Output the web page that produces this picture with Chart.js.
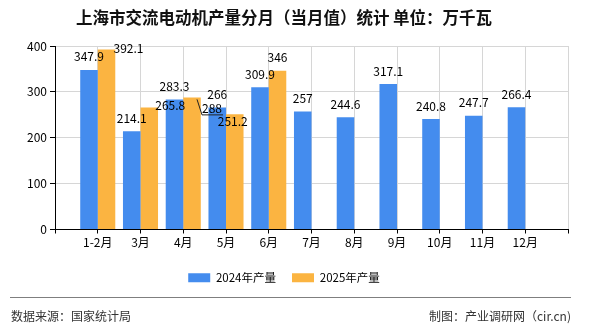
<!DOCTYPE html>
<html>
<head>
<meta charset="utf-8">
<script src="https://cdn.jsdelivr.net/npm/chart.js@4/dist/chart.umd.min.js"></script>
<style>
  html, body { margin: 0; padding: 0; background: #fff; }
  #wrap { position: relative; width: 590px; height: 330px; }
  #rule { position: absolute; left: 10px; top: 297px; width: 561px; height: 1px; background: #7f7f7f; }
  .foot { position: absolute; top: 307px; font: 12px "Noto Sans CJK SC", sans-serif; color: #333; line-height: 18px; }
</style>
</head>
<body>
<div id="wrap">
  <canvas id="myChart" width="590" height="330"></canvas>
  <div id="rule"></div>
  <div class="foot" style="left:11px">数据来源：国家统计局</div>
  <div class="foot" style="right:19px">制图：产业调研网（cir.cn)</div>
</div>
<script>
const ctx = document.getElementById('myChart');

// data
var months = ['1-2月', '3月', '4月', '5月', '6月', '7月', '8月', '9月', '10月', '11月', '12月'];
var output2024 = [347.9, 214.1, 283.3, 266, 309.9, 257, 244.6, 317.1, 240.8, 247.7, 266.4];
var output2025 = [392.1, 265.8, 288, 251.2, 346];
var yTicks = [0, 100, 200, 300, 400];

// one empty slot each side so the grid starts/ends half a step out
function pad(arr) {
    var out = [null];
    for (var i = 0; i < months.length; i++) {
        out.push(i < arr.length ? arr[i] : null);
    }
    out.push(null);
    return out;
}

const font = '"Noto Sans CJK SC", sans-serif';

// the source moved a few crowded 2025 labels aside: [dx, dy, leader line]
var shifts2025 = [[22, 11.5], [21, 11], [20, 24, true], [-2, 20]];

const valueLabels = {
    id: 'valueLabels',
    afterDatasetsDraw(chart) {
        const c = chart.ctx;
        c.save();
        c.font = '12px ' + font;
        c.fillStyle = '#000';
        c.strokeStyle = '#222';
        c.lineWidth = 1;
        c.textAlign = 'center';
        c.textBaseline = 'middle';
        chart.data.datasets.forEach(function (ds, i) {
            chart.getDatasetMeta(i).data.forEach(function (bar, j) {
                var v = ds.data[j];
                if (v === null || v === undefined) return;
                var x = bar.x, y = bar.y - 13;
                var s = i === 1 ? shifts2025[j - 1] : null;
                if (s) {
                    x += s[0];
                    y += s[1];
                    if (s[2]) {
                        c.beginPath();
                        c.moveTo(bar.x + 5, bar.y + 2);
                        c.lineTo(x - 10, y + 6.5);
                        c.lineTo(x + 11, y + 6.5);
                        c.stroke();
                    }
                }
                c.fillText(String(v), x, y);
            });
        });
        c.restore();
    }
};

const myChart = new Chart(ctx, {
    type: 'bar',
    data: {
        labels: [''].concat(months, ['']),
        datasets: [{
            label: '2024年产量',
            data: pad(output2024),
            backgroundColor: '#448cee',
            borderWidth: 0
        }, {
            label: '2025年产量',
            data: pad(output2025),
            backgroundColor: '#fbb441',
            borderWidth: 0
        }]
    },
    plugins: [valueLabels],
    options: {
        responsive: false,
        animation: false,
        categoryPercentage: 0.82,
        barPercentage: 1.0,
        layout: { padding: { left: 0, right: 22, top: 0, bottom: 36.5 } },
        plugins: {
            title: {
                display: true,
                text: '上海市交流电动机产量分月（当月值）统计 单位：万千瓦',
                color: '#111',
                font: { family: font, size: 16.5, weight: 'bold', lineHeight: 1.2 },
                padding: { top: 7.7, bottom: 18.5 }
            },
            legend: {
                position: 'bottom',
                labels: {
                    boxWidth: 22,
                    boxHeight: 9,
                    padding: 16,
                    color: '#000',
                    font: { family: font, size: 11.5 }
                }
            },
            tooltip: { enabled: false }
        },
        scales: {
            x: {
                offset: false,
                grid: { offset: false, color: '#d6d6d6', tickColor: '#000', tickLength: 4 },
                border: { color: '#000', width: 1 },
                ticks: { color: '#000', padding: 2, maxRotation: 0, autoSkip: false, font: { family: font, size: 12 } },
                afterFit: function (scale) { scale.height = 26.5; }
            },
            y: {
                min: yTicks[0],
                max: yTicks[yTicks.length - 1],
                grid: { color: '#d6d6d6', tickColor: '#000', tickLength: 5 },
                border: { color: '#000', width: 1 },
                ticks: { stepSize: 100, color: '#000', padding: 3, font: { family: font, size: 12 } },
                afterFit: function (scale) { scale.width = 55; }
            }
        }
    }
});
</script>
</body>
</html>
